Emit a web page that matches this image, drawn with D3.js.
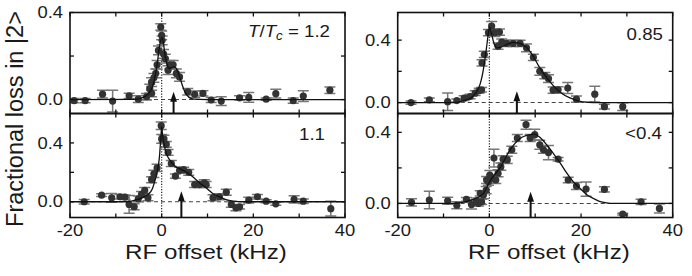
<!DOCTYPE html>
<html><head><meta charset="utf-8">
<script src="https://cdn.jsdelivr.net/npm/d3@7"></script>
<style>body{margin:0;background:#fff} svg{display:block} text{font-family:"Liberation Sans",Arial,Helvetica,sans-serif;fill:#1a1a1a}</style>
</head><body><svg id="c" width="692" height="276"></svg>
<script>
// ---------- axes ----------
const xTicks = [-20, -10, 0, 10, 20, 30, 40];
const xTickLabels = [-20, 0, 20, 40];
const yTicks = [0, 0.2, 0.4];
const yTickLabels = [0, 0.4];

// ---------- panel labels ----------
const panelLabels = ["T/Tc = 1.2", "1.1", "0.85", "<0.4"];

// ---------- T/Tc = 1.2 ----------
const aX = [-19.1,-16.7,-12.9,-10.7,-7.1,-5.1,-3.3,-2.2,-2.6,-2.2,-1.7,-1.3,-1.0,-0.7,-0.2,0.0,0.1,0.4,0.8,1.4,1.8,2.5,3.2,3.9,5.7,7.2,9.0,10.8,13.0,17.0,19.0,22.8,24.9,28.7,30.9,36.7];
const aY = [-0.005,-0.005,0.025,-0.007,0.017,0.002,0.013,0.028,0.05,0.08,0.1,0.12,0.16,0.226,0.333,0.295,0.272,0.21,0.188,0.135,0.16,0.16,0.12,0.104,0.036,0.024,0.028,-0.002,-0.007,0.008,0.01,0.002,0.027,-0.005,0.016,0.043];
const aE = [0.01,0.01,0.018,0.05,0.012,0.015,0.015,0.015,0.02,0.02,0.02,0.02,0.02,0.02,0.015,0.02,0.02,0.02,0.02,0.02,0.02,0.02,0.02,0.02,0.015,0.015,0.012,0.012,0.02,0.01,0.022,0.005,0.02,0.012,0.025,0.015];
const aFitX = [-20,-6,-4,-3,-2,-1.5,-1,-0.5,0,0.3,0.7,1.2,1.6,2.2,2.8,3.4,4,4.6,5.2,6,7,10,40];
const aFitY = [0,0.001,0.01,0.025,0.06,0.1,0.16,0.24,0.285,0.27,0.21,0.16,0.143,0.147,0.15,0.135,0.1,0.06,0.03,0.01,0.002,0,0];

// ---------- T/Tc = 1.1 ----------
const bX = [-16.9,-13.1,-10.9,-9.1,-8.0,-7.1,-6.0,-5.1,-4.4,-3.7,-3.0,-2.2,-1.7,-1.0,-0.1,0.0,0.5,1.0,1.4,2.1,3.0,3.9,4.8,5.9,7.2,8.3,9.3,9.7,11.2,12.6,14.1,15.2,16.2,17.0,19.0,20.9,22.8,24.9,28.9,30.9,36.9];
const bY = [0.0,0.045,0.027,0.034,0.031,-0.018,-0.034,0.02,0.05,0.077,0.027,0.15,0.19,0.23,0.517,0.427,0.427,0.39,0.336,0.26,0.174,0.214,0.219,0.2,0.117,0.117,0.129,0.117,0.027,0.034,0.065,-0.018,-0.041,-0.034,0.011,0.034,0.004,-0.014,0.016,0.004,-0.047];
const bE = [0.015,0.01,0.03,0.015,0.015,0.06,0.02,0.02,0.02,0.02,0.02,0.02,0.025,0.025,0.025,0.03,0.025,0.02,0.02,0.02,0.015,0.02,0.015,0.02,0.02,0.02,0.02,0.02,0.02,0.02,0.02,0.02,0.02,0.015,0.02,0.015,0.01,0.01,0.025,0.015,0.05];
const bFitX = [-20,-8,-6,-4,-3,-2,-1.5,-1,-0.5,-0.15,0,0.2,0.6,1,1.7,2.8,3.9,5.5,6.8,8.2,9.7,11,12.6,14,15.5,18,40];
const bFitY = [0,0,0.01,0.03,0.05,0.09,0.14,0.2,0.3,0.45,0.51,0.45,0.38,0.33,0.287,0.245,0.225,0.2,0.17,0.13,0.095,0.06,0.034,0.015,0.005,0,0];

// ---------- T/Tc = 0.85 ----------
const cX = [-17.1,-13.1,-9.1,-7.1,-5.5,-4.2,-3.1,-2.2,-1.7,-1.6,-1.1,-0.2,0.5,1.2,1.9,2.2,2.7,3.8,5.2,6.7,8.1,9.6,11.0,12.1,12.9,13.9,15.0,17.1,19.0,23.0,25.1,29.1];
const cY = [0.0,0.017,0.006,0.013,0.028,0.039,0.06,0.077,0.082,0.254,0.308,0.448,0.49,0.448,0.361,0.452,0.387,0.379,0.379,0.379,0.351,0.29,0.2,0.172,0.153,0.08,0.082,0.093,0.022,0.054,-0.026,-0.026];
const cE = [0.01,0.012,0.056,0.01,0.015,0.015,0.015,0.015,0.015,0.02,0.02,0.02,0.03,0.025,0.02,0.02,0.02,0.02,0.02,0.02,0.025,0.02,0.025,0.02,0.025,0.02,0.02,0.035,0.02,0.05,0.015,0.025];
const cFitX = [-20,-8,-6,-4,-3,-2,-1.5,-1,-0.5,-0.15,0,0.4,1,1.6,2.5,4,5.5,7,8.1,9.5,11,12.5,13.9,15.5,17.6,19.5,21.5,24,40];
const cFitY = [0,0,0.01,0.03,0.06,0.12,0.18,0.27,0.38,0.46,0.485,0.45,0.38,0.35,0.355,0.375,0.385,0.375,0.355,0.3,0.222,0.16,0.11,0.065,0.03,0.01,0.002,0,0];

// ---------- T/Tc < 0.4 ----------
const dX = [-17,-13.1,-9.1,-7.1,-5.0,-3.9,-2.8,-2.4,-2.0,-1.7,-1.3,-0.7,-0.6,-0.2,0.1,0.5,1.0,1.4,1.9,2.5,3.0,3.9,4.9,6.1,8.0,8.9,9.9,11.0,11.8,12.9,15.0,17.2,19.0,21.1,25.1,29.1,33.1,37.1];
const dY = [0.006,0.019,0.015,-0.01,0.023,-0.006,0.015,0.0,0.057,0.009,0.047,0.075,0.132,0.122,0.16,0.141,0.255,0.132,0.17,0.207,0.249,0.245,0.302,0.368,0.443,0.368,0.387,0.33,0.302,0.286,0.249,0.132,0.098,0.081,0.079,-0.06,0.009,-0.028];
const dE = [0.02,0.049,0.02,0.02,0.01,0.025,0.015,0.015,0.015,0.015,0.02,0.02,0.02,0.02,0.025,0.02,0.05,0.02,0.02,0.02,0.02,0.02,0.02,0.02,0.025,0.02,0.03,0.025,0.02,0.04,0.01,0.015,0.02,0.04,0.015,0.005,0.015,0.025];
const dFitX = [-20,-8,-6,-3.5,-1.3,0.1,2.3,4.5,6.7,8.9,9.8,11,12.5,13.9,15.5,16.9,18.3,19.8,21.2,22.7,24,25.6,27,40];
const dFitY = [0,0,0.006,0.023,0.057,0.125,0.2,0.3,0.365,0.387,0.39,0.372,0.33,0.283,0.225,0.17,0.122,0.085,0.05,0.028,0.012,0.003,0,0];

// ---------- arrows (x position, tip height) ----------
const arrowX = [2.6, 4.3, 6.0, 9.0];
const arrowTip = [0.036, 0.072, 0.072, 0.066];

// ---------- layout ----------
const cols = [[70, 345], [397.7, 672.7]];
const rows = [[12.5, 113.5], [113.5, 217.5]];
const yDomains = [[-0.064, 0.4], [-0.107, 0.6], [-0.07, 0.577], [-0.079, 0.506]];

const panels = [
  {col:0,row:0,x:aX,y:aY,e:aE,fx:aFitX,fy:aFitY},
  {col:0,row:1,x:bX,y:bY,e:bE,fx:bFitX,fy:bFitY},
  {col:1,row:0,x:cX,y:cY,e:cE,fx:cFitX,fy:cFitY},
  {col:1,row:1,x:dX,y:dY,e:dE,fx:dFitX,fy:dFitY}
];

const svg = d3.select("#c");
const SX = 1.15;
function stext(g, x, y, str, size, anchor, sx) {
  return g.append("text").attr("transform", `translate(${x},${y}) scale(${sx||SX},1)`)
    .attr("font-size", size).attr("text-anchor", anchor||"start").text(str);
}

panels.forEach((p, i) => {
  const [x0, x1] = cols[p.col], [y0, y1] = rows[p.row];
  const xs = d3.scaleLinear().domain([-20, 40]).range([x0, x1]);
  const ys = d3.scaleLinear().domain(yDomains[i]).range([y1, y0]);
  const g = svg.append("g");
  const clipId = "clip" + i;
  svg.append("clipPath").attr("id", clipId).append("rect")
    .attr("x", x0).attr("y", y0).attr("width", x1 - x0).attr("height", y1 - y0);
  const pg = g.append("g").attr("clip-path", `url(#${clipId})`);

  // zero reference lines
  pg.append("line").attr("x1", x0).attr("x2", x1).attr("y1", ys(0)).attr("y2", ys(0))
    .attr("stroke", "#444").attr("stroke-width", 1.1).attr("stroke-dasharray", "4,3");
  pg.append("line").attr("x1", xs(0)).attr("x2", xs(0)).attr("y1", y0).attr("y2", y1)
    .attr("stroke", "#222").attr("stroke-width", 1.2).attr("stroke-dasharray", "1.2,1.5");

  const pts = p.x.map((v, k) => ({x: v, y: p.y[k], e: p.e[k]}));
  // error bars
  const eb = pg.append("g").attr("stroke", "#777").attr("stroke-width", 1.5);
  pts.forEach(d => {
    const cx = xs(d.x), ya = ys(d.y + d.e), yb = ys(d.y - d.e);
    eb.append("line").attr("x1", cx).attr("x2", cx).attr("y1", ya).attr("y2", yb);
    eb.append("line").attr("x1", cx - 5.5).attr("x2", cx + 5.5).attr("y1", ya).attr("y2", ya);
    eb.append("line").attr("x1", cx - 5.5).attr("x2", cx + 5.5).attr("y1", yb).attr("y2", yb);
  });
  pg.append("g").selectAll("circle").data(pts).join("circle")
    .attr("cx", d => xs(d.x)).attr("cy", d => ys(d.y)).attr("r", 3.6).attr("fill", "#333");

  // fit curve
  const fit = p.fx.map((v, k) => [v, p.fy[k]]);
  pg.append("path").datum(fit)
    .attr("d", d3.line().x(d => xs(d[0])).y(d => ys(d[1])).curve(d3.curveMonotoneX))
    .attr("fill", "none").attr("stroke", "#111").attr("stroke-width", 1.3);

  // arrow
  const ax = xs(arrowX[i]), at = ys(arrowTip[i]);
  g.append("line").attr("x1", ax).attr("x2", ax).attr("y1", y1).attr("y2", at + 6)
    .attr("stroke", "#111").attr("stroke-width", 2);
  g.append("path").attr("d", `M${ax},${at} L${ax - 3.4},${at + 10} L${ax + 3.4},${at + 10} Z`).attr("fill", "#111");

  // frame
  g.append("rect").attr("x", x0).attr("y", y0).attr("width", x1 - x0).attr("height", y1 - y0)
    .attr("fill", "none").attr("stroke", "#111").attr("stroke-width", 1.6);

  // ticks inward
  const tk = g.append("g").attr("stroke", "#111").attr("stroke-width", 1.3);
  xTicks.forEach(t => {
    const tx = xs(t);
    tk.append("line").attr("x1", tx).attr("x2", tx).attr("y1", y1).attr("y2", y1 - 4);
    tk.append("line").attr("x1", tx).attr("x2", tx).attr("y1", y0).attr("y2", y0 + 4);
  });
  yTicks.forEach(t => {
    const ty = ys(t);
    if (ty < y0 - 0.5 || ty > y1 + 0.5) return;
    tk.append("line").attr("x1", x0).attr("x2", x0 + 4).attr("y1", ty).attr("y2", ty);
    tk.append("line").attr("x1", x1).attr("x2", x1 - 4).attr("y1", ty).attr("y2", ty);
  });

  // y tick labels
  yTickLabels.forEach(t => {
    stext(g, x0 - 7, ys(t) + 5.7, d3.format(".1f")(t), 16, "end");
  });
  // x tick labels (bottom row only)
  if (p.row === 1) {
    xTickLabels.forEach(t => stext(g, xs(t), 235.5, String(t), 16, "middle"));
  }
});

// panel labels
const lab0 = svg.append("text").attr("transform", "translate(330,37) scale(1.1,1)")
  .attr("font-size", 17).attr("text-anchor", "end");
lab0.append("tspan").attr("font-style", "italic").text("T");
lab0.append("tspan").text("/");
lab0.append("tspan").attr("font-style", "italic").text("T");
lab0.append("tspan").attr("font-style", "italic").attr("font-size", 12).attr("dy", 3).text("c");
lab0.append("tspan").attr("dy", -3).text(" = 1.2");
stext(svg, 325, 140, panelLabels[1], 17, "end", 1.1);
stext(svg, 663, 39.5, panelLabels[2], 17, "end", 1.1);
stext(svg, 662, 138.5, panelLabels[3], 17, "end", 1.1);

// axis titles
stext(svg, 206, 258.5, "RF offset (kHz)", 21, "middle");
stext(svg, 549, 258.5, "RF offset (kHz)", 21, "middle");
svg.append("text").attr("transform", "translate(23,119) rotate(-90)")
  .attr("font-size", 23.5).attr("text-anchor", "middle").text("Fractional loss in |2>");
</script></body></html>
